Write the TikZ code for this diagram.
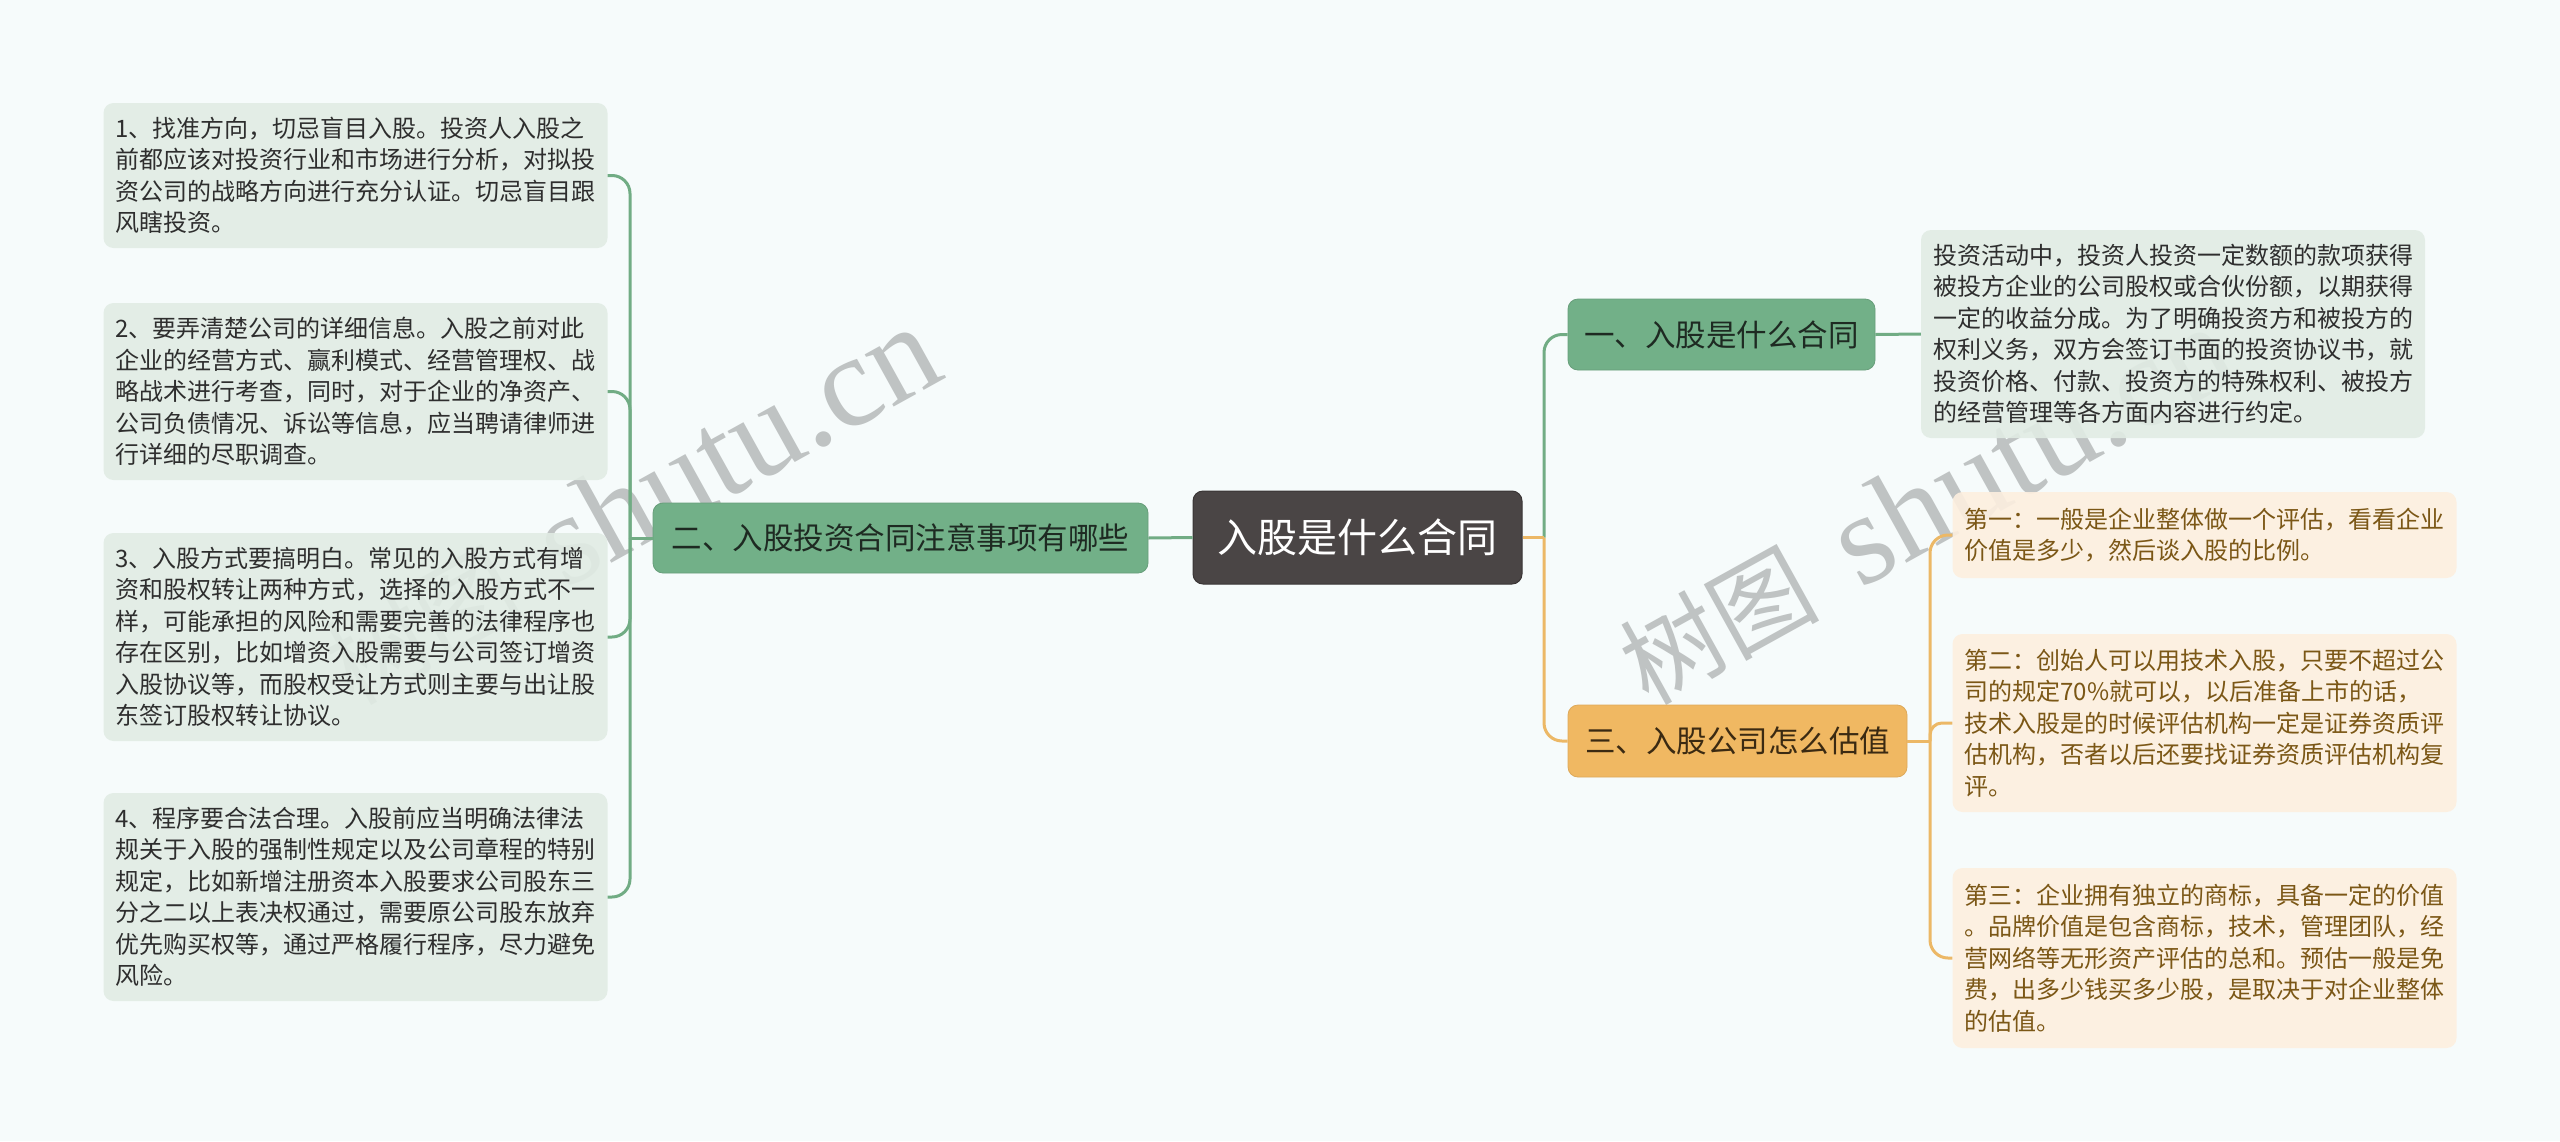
\documentclass[tikz,border=0pt]{standalone}
\usepackage{fontspec}
\setmainfont{Noto Sans CJK SC}
\newfontfamily\wmlat{Liberation Serif}
\definecolor{bgc}{HTML}{F6FBFB}
\definecolor{cfill}{HTML}{4A4545}
\definecolor{cdraw}{HTML}{3A3535}
\definecolor{gbr}{HTML}{72B088}
\definecolor{gbrtext}{HTML}{1E2A22}
\definecolor{obr}{HTML}{F0B862}
\definecolor{obrtext}{HTML}{3B2A12}
\definecolor{gline}{HTML}{71AC84}
\definecolor{oline}{HTML}{ECB866}
\definecolor{leafg}{HTML}{E1ECE4}
\definecolor{leafgtext}{HTML}{2E2E2E}
\definecolor{leafo}{HTML}{FDEFDF}
\definecolor{leafotext}{HTML}{7B5716}
\definecolor{wmc}{HTML}{BFC3C3}
\begin{document}
\begin{tikzpicture}[x=1pt,y=-1pt,
  leafbase/.style={rectangle, rounded corners=10pt, fill opacity=.9, text opacity=1,
    text width=480pt, align=left, inner xsep=12pt, inner ysep=0pt,
    font=\fontsize{24}{31.5}\selectfont},
  leafgreen/.style={leafbase, fill=leafg, text=leafgtext},
  leaforange/.style={leafbase, fill=leafo, text=leafotext},
  branchbase/.style={rectangle, rounded corners=10pt, inner sep=0pt,
    font=\fontsize{30.5}{36}\selectfont},
  branchgreen/.style={branchbase, fill=gbr, draw=gbr!90!black, line width=0.8pt, text=gbrtext},
  branchorange/.style={branchbase, fill=obr, draw=obr!92!black, line width=0.8pt, text=obrtext},
  rootnode/.style={rectangle, rounded corners=10pt, inner sep=0pt, fill=cfill, draw=cdraw,
    line width=1pt, text=white, font=\fontsize{40}{48}\selectfont},
  gconn/.style={draw=gline, line width=3pt},
  oconn/.style={draw=oline, line width=3pt},
  wmark/.style={inner sep=0pt, text=wmc, rotate=29, anchor=base west}
]
\fill[bgc] (0,0) rectangle (2560,1141);
\useasboundingbox (0,0) rectangle (2560,1141);

% watermarks (behind)
\node[wmark] (wmL) at (353,707) {{\fontsize{100}{100}\selectfont 树图}\hspace{43pt}{\wmlat\fontsize{130}{130}\selectfont shutu.cn}};
\node[wmark] (wmR) at (1648,707) {{\fontsize{100}{100}\selectfont 树图}\hspace{43pt}{\wmlat\fontsize{130}{130}\selectfont shutu.cn}};

% root
\node[rootnode, minimum width=329pt, minimum height=93pt] (root) at (1357.5,537.5) {入股是什么合同};

% branches
\node[branchgreen, minimum width=495pt, minimum height=70pt] (b2) at (900.5,538) {二、入股投资合同注意事项有哪些};
\node[branchgreen, minimum width=307pt, minimum height=71pt] (b1) at (1721.5,334.5) {一、入股是什么合同};
\node[branchorange, minimum width=339pt, minimum height=72pt] (b3) at (1737.5,741) {三、入股公司怎么估值};

% left leaves
\node[leafgreen, minimum height=145pt] (l1) at (355.5,175.5) {1、找准方向，切忌盲目入股。投资人入股之\\前都应该对投资行业和市场进行分析，对拟投\\资公司的战略方向进行充分认证。切忌盲目跟\\风瞎投资。};
\node[leafgreen, minimum height=177pt] (l2) at (355.5,391.5) {2、要弄清楚公司的详细信息。入股之前对此\\企业的经营方式、赢利模式、经营管理权、战\\略战术进行考查，同时，对于企业的净资产、\\公司负债情况、诉讼等信息，应当聘请律师进\\行详细的尽职调查。};
\node[leafgreen, minimum height=208pt] (l3) at (355.5,637) {3、入股方式要搞明白。常见的入股方式有增\\资和股权转让两种方式，选择的入股方式不一\\样，可能承担的风险和需要完善的法律程序也\\存在区别，比如增资入股需要与公司签订增资\\入股协议等，而股权受让方式则主要与出让股\\东签订股权转让协议。};
\node[leafgreen, minimum height=208pt] (l4) at (355.5,897) {4、程序要合法合理。入股前应当明确法律法\\规关于入股的强制性规定以及公司章程的特别\\规定，比如新增注册资本入股要求公司股东三\\分之二以上表决权通过，需要原公司股东放弃\\优先购买权等，通过严格履行程序，尽力避免\\风险。};

% right leaves
\node[leafgreen, minimum height=208pt] (r1) at (2173,334) {投资活动中，投资人投资一定数额的款项获得\\被投方企业的公司股权或合伙份额，以期获得\\一定的收益分成。为了明确投资方和被投方的\\权利义务，双方会签订书面的投资协议书，就\\投资价格、付款、投资方的特殊权利、被投方\\的经营管理等各方面内容进行约定。};
\node[leaforange, minimum height=86pt] (oa) at (2204.5,535) {第一：一般是企业整体做一个评估，看看企业\\价值是多少，然后谈入股的比例。};
\node[leaforange, minimum height=178pt] (ob) at (2204.5,723) {第二：创始人可以用技术入股，只要不超过公\\司的规定70\%就可以，以后准备上市的话，\\技术入股是的时候评估机构一定是证券资质评\\估机构，否者以后还要找证券资质评估机构复\\评。};
\node[leaforange, minimum height=180pt] (oc) at (2204.5,958) {第三：企业拥有独立的商标，具备一定的价值\\。品牌价值是包含商标，技术，管理团队，经\\营网络等无形资产评估的总和。预估一般是免\\费，出多少钱买多少股，是取决于对企业整体\\的估值。};

% junctions
\coordinate (jL) at (630,538);
\coordinate (jR) at (1544,537.5);
\coordinate (jO) at (1930,741);

% connectors
\draw[gconn] (root.west) -- (b2.east);
\draw[gconn] (b2.west) -- (jL);
\draw[gconn, rounded corners=18pt] (jL) |- (l1.east);
\draw[gconn, rounded corners=18pt] (jL) |- (l2.east);
\draw[gconn, rounded corners=18pt] (jL) |- (l3.east);
\draw[gconn, rounded corners=18pt] (jL) |- (l4.east);

\draw[gconn, rounded corners=18pt] (jR) |- (b1.west);
\draw[gconn] (b1.east) -- (r1.west);
\draw[oconn] (root.east) -- (jR);
\draw[oconn, rounded corners=18pt] (jR) |- (b3.west);

\draw[oconn] (b3.east) -- (jO);
\draw[oconn, rounded corners=18pt] (jO) |- (oa.west);
\draw[oconn, rounded corners=12pt] (jO) |- (ob.west);
\draw[oconn, rounded corners=18pt] (jO) |- (oc.west);
\end{tikzpicture}
\end{document}
